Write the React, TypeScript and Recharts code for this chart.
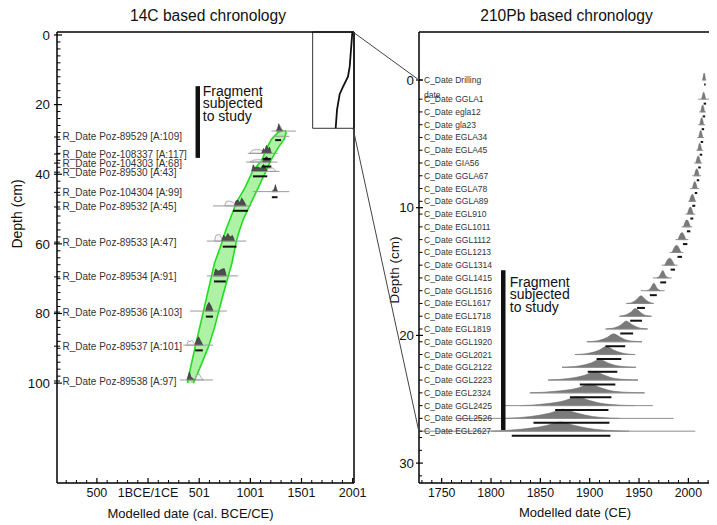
import React from 'react';
import { ComposedChart, XAxis, YAxis, Area, Line, Scatter, ReferenceLine, ReferenceArea } from 'recharts';

const FONT = '"Liberation Sans", Arial, Helvetica, sans-serif';

// ================= 14C panel (left) =================
const leftXDomain = [-890, 2013];
const leftYDomain = [-0.86, 128.7];
const leftXMajor = [-500, 0, 500, 1000, 1500, 2000];
const leftXMajorLabels = ['500', '1BCE/1CE', '501', '1001', '1501', '2001'];
const leftXMinor = [-800, -700, -600, -400, -300, -200, -100, 100, 200, 300, 400, 600, 700, 800, 900, 1100, 1200, 1300, 1400, 1600, 1700, 1800, 1900];
const leftYMajor = [0, 20, 40, 60, 80, 100];
const leftYMinor = Array.from({ length: 50 }, (_, i) => (i + 1) * 2).filter((v) => v % 20 !== 0);

const rDateNames = [
  'R_Date Poz-89529 [A:109]',
  'R_Date Poz-108337 [A:117]',
  'R_Date Poz-104303 [A:68]',
  'R_Date Poz-89530 [A:43]',
  'R_Date Poz-104304 [A:99]',
  'R_Date Poz-89532 [A:45]',
  'R_Date Poz-89533 [A:47]',
  'R_Date Poz-89534 [A:91]',
  'R_Date Poz-89536 [A:103]',
  'R_Date Poz-89537 [A:101]',
  'R_Date Poz-89538 [A:97]',
];
const rDateDepths = [29.3, 34.2, 36.8, 39.4, 45.2, 49.4, 59.5, 69.5, 79.6, 89.4, 99.4];
const rDateBase = [27.6, 34.0, 36.5, 39.2, 45.0, 49.1, 59.2, 69.2, 79.3, 89.1, 99.1];
const rDateLine = [[1205, 1445], [975, 1265], [960, 1265], [1010, 1285], [1025, 1380], [635, 1010], [575, 960], [575, 880], [410, 770], [345, 635], [310, 635]];
const rDateBar = [[1243, 1300], [1120, 1200], [1115, 1205], [1025, 1165], [1210, 1265], [830, 975], [730, 865], [645, 760], [565, 635], [460, 535], null];
const rDateBarDepth = [30.2, 35.6, 37.8, 40.6, 46.6, 50.5, 60.8, 70.8, 80.9, 90.6, null];
const rDateExtraLine = { depth: 29.1, range: [1230, 1380] };

// posterior (dark) [year, height in cm]
const rDatePost = [
  [[1255, 0], [1268, 0.8], [1278, 2.1], [1288, 1.2], [1298, 0.7], [1312, 0]],
  [[1110, 0], [1128, 1.4], [1142, 0.9], [1158, 2.3], [1172, 1.2], [1188, 1.8], [1205, 0]],
  [[1118, 0], [1138, 1.1], [1158, 1.6], [1178, 0.9], [1200, 0]],
  [[1012, 0], [1028, 1.9], [1045, 1.0], [1075, 1.3], [1100, 0.9], [1128, 2.0], [1148, 1.1], [1165, 0]],
  [[1212, 0], [1232, 0.6], [1245, 2.0], [1256, 0.7], [1266, 0]],
  [[842, 0], [858, 1.4], [878, 1.7], [898, 0.9], [915, 2.3], [935, 1.4], [960, 0]],
  [[718, 0], [738, 1.7], [758, 1.0], [780, 2.2], [802, 1.2], [825, 1.6], [846, 0]],
  [[643, 0], [660, 2.0], [688, 1.3], [718, 1.9], [745, 2.1], [765, 0]],
  [[562, 0], [578, 1.6], [595, 2.5], [615, 1.5], [636, 0]],
  [[458, 0], [474, 1.5], [494, 2.4], [514, 1.2], [536, 0]],
  [[378, 0], [392, 1.1], [404, 2.3], [420, 0.8], [458, 0]],
];
// unmodelled likelihood (light outline)
const rDateLike = [
  [[1250, 0], [1272, 1.3], [1292, 1.5], [1305, 0.6], [1325, 0]],
  [[995, 0], [1018, 0.9], [1060, 1.1], [1100, 1.0], [1150, 0]],
  [[995, 0], [1035, 0.6], [1095, 0.7], [1140, 0]],
  [[1150, 0], [1178, 0.9], [1220, 1.0], [1252, 0]],
  [[1205, 0], [1240, 0.8], [1270, 0]],
  [[748, 0], [765, 1.3], [800, 1.4], [832, 1.0], [866, 0]],
  [[648, 0], [665, 1.7], [700, 1.9], [732, 0]],
  [[640, 0], [660, 1.4], [700, 1.5], [735, 0]],
  [[560, 0], [590, 1.8], [625, 0]],
  [[378, 0], [394, 1.3], [410, 0.9], [425, 1.4], [442, 1.0], [460, 0]],
  [[460, 0], [476, 1.6], [500, 1.7], [520, 0.7], [542, 0]],
];

// age-depth envelope
const bandDepths = [27.3, 28, 30, 32, 36, 39, 44, 48, 53, 56, 59, 65.5, 75, 84, 89.6, 99, 100];
const bandOld = [1318, 1270, 1205, 1170, 1110, 1025, 945, 865, 800, 760, 730, 650, 575, 505, 460, 390, 385];
const bandYoung = [1340, 1350, 1330, 1280, 1200, 1155, 1075, 1010, 930, 895, 865, 820, 730, 650, 590, 460, 440];

// inset (210Pb chronology in 14C scale)
const insetBox = { x1: 1609, x2: 2013, y1: -0.86, y2: 26.8 };
const insetYears = [1997, 1971, 1954, 1905, 1873, 1847, 1834];
const insetDepths = [-0.86, 9.1, 12.0, 14.9, 17.0, 21.5, 26.8];

const fragLeft = { x: 486, y1: 14.7, y2: 35.3, textX: 535, textY: 16.0 };

// ================= 210Pb panel (right) =================
const rightXDomain = [1727, 2027];
const rightYDomain = [-3.76, 31.56];
const rightXMajor = [1750, 1800, 1850, 1900, 1950, 2000];
const rightXMinor = [1730, 1740, 1760, 1770, 1780, 1790, 1810, 1820, 1830, 1840, 1860, 1870, 1880, 1890, 1910, 1920, 1930, 1940, 1960, 1970, 1980, 1990, 2010, 2020];
const rightYMajor = [0, 10, 20, 30];
const rightYMinor = [28, 29, 31];

const cDateNames = [
  'C_Date Drilling', 'C_Date GGLA1', 'C_Date egla12', 'C_Date gla23', 'C_Date EGLA34', 'C_Date EGLA45',
  'C_Date GIA56', 'C_Date GGLA67', 'C_Date EGLA78', 'C_Date GGLA89', 'C_Date EGL910', 'C_Date EGL1011',
  'C_Date GGL1112', 'C_Date EGL1213', 'C_Date GGL1314', 'C_Date GGL1415', 'C_Date GGL1516', 'C_Date EGL1617',
  'C_Date EGL1718', 'C_Date EGL1819', 'C_Date GGL1920', 'C_Date GGL2021', 'C_Date GGL2122', 'C_Date GGL2223',
  'C_Date EGL2324', 'C_Date GGL2425', 'C_Date GGL2526', 'C_Date EGL2627',
];
const cDateDepths = [0, 1.5, 2.5, 3.5, 4.5, 5.5, 6.5, 7.5, 8.5, 9.5, 10.5, 11.5, 12.5, 13.5, 14.5, 15.5, 16.5, 17.5, 18.5, 19.5, 20.5, 21.5, 22.5, 23.5, 24.5, 25.5, 26.5, 27.5];
const cDateShapes = [
  [[2014.5, 0], [2016, 0.55], [2017.5, 0]],
  [[2013.5, 0], [2015.5, 0.55], [2017.5, 0]],
  [[2012.5, 0], [2014.5, 0.55], [2016.5, 0]],
  [[2011.5, 0], [2013.5, 0.55], [2015.5, 0]],
  [[2010.5, 0], [2012.5, 0.55], [2014.5, 0]],
  [[2009.5, 0], [2011.5, 0.55], [2013.5, 0]],
  [[2007.5, 0], [2010, 0.55], [2012.5, 0]],
  [[2006, 0], [2008.5, 0.55], [2011, 0]],
  [[2004, 0], [2006.5, 0.55], [2009, 0]],
  [[2001, 0], [2004, 0.55], [2007, 0]],
  [[1999, 0], [2002, 0.55], [2005, 0]],
  [[1995, 0], [1998.5, 0.55], [2002, 0]],
  [[1989.5, 0], [1993.5, 0.55], [1997.5, 0]],
  [[1983.5, 0], [1988, 0.55], [1992.5, 0]],
  [[1976, 0], [1981, 0.55], [1986, 0]],
  [[1968, 0], [1971, 0.18], [1974, 0.58], [1977, 0.18], [1980, 0]],
  [[1958, 0], [1961.5, 0.18], [1965, 0.58], [1968.5, 0.18], [1972, 0]],
  [[1938, 0], [1944, 0.12], [1948, 0.34], [1952, 0.6], [1956, 0.34], [1960, 0.12], [1965, 0]],
  [[1930, 0], [1937, 0.12], [1942, 0.34], [1946, 0.6], [1951, 0.34], [1955, 0.12], [1962, 0]],
  [[1916, 0], [1926, 0.12], [1932, 0.34], [1937, 0.62], [1943, 0.34], [1949, 0.12], [1959, 0]],
  [[1897, 0], [1910, 0.12], [1918, 0.36], [1924, 0.62], [1931, 0.36], [1938, 0.12], [1953, 0]],
  [[1885, 0], [1900, 0.12], [1910, 0.36], [1917, 0.64], [1924, 0.36], [1933, 0.12], [1946, 0]],
  [[1872, 0], [1890, 0.12], [1902, 0.36], [1910, 0.64], [1918, 0.36], [1928, 0.12], [1947, 0]],
  [[1858, 0], [1878, 0.12], [1895, 0.38], [1905, 0.66], [1915, 0.38], [1926, 0.12], [1949, 0]],
  [[1840, 0], [1865, 0.12], [1888, 0.38], [1900, 0.68], [1912, 0.38], [1925, 0.12], [1955, 0]],
  [[1830, 0], [1855, 0.14], [1875, 0.4], [1887, 0.7], [1900, 0.4], [1915, 0.14], [1945, 0]],
  [[1815, 0], [1840, 0.15], [1860, 0.42], [1873, 0.72], [1887, 0.42], [1903, 0.15], [1930, 0]],
  [[1800, 0], [1830, 0.15], [1855, 0.42], [1870, 0.72], [1886, 0.42], [1905, 0.15], [1940, 0]],
];
const cDateLine = [
  [2014, 2018], [2010, 2022], [2011, 2018], [2010, 2017], [2009, 2016], [2008, 2015], [2006, 2014],
  [2004, 2013], [2002, 2011], [2000, 2008], [1997, 2007], [1993, 2004], [1987, 2000], [1981, 1995],
  [1973, 1989], [1964, 1983], [1952, 1976], [1937, 1964], [1931, 1963], [1917, 1958], [1898, 1953],
  [1885, 1946], [1872, 1947], [1858, 1949], [1839, 1956], [1814, 1964], [1765, 1985], [1727, 2007],
];
const cDateBar = [
  [2016, 2017.5], [2015.5, 2018], [2014.5, 2017], [2013.5, 2016], [2012.5, 2015], [2011.5, 2014], [2010, 2012.5],
  [2008.5, 2011], [2006.5, 2009], [2004, 2007], [2002, 2005], [1998.5, 2002], [1994.5, 1999], [1989, 1993.5],
  [1982, 1986.5], [1971.5, 1977.5], [1961, 1968], [1948, 1956], [1941, 1953], [1931, 1944], [1916, 1936],
  [1907, 1932], [1898, 1928], [1890, 1926], [1880, 1922], [1865, 1919], [1843, 1920], [1821, 1921],
];
const cDateBarOffset = 0.35;

const fragRight = { x: 1812.4, y1: 14.9, y2: 27.4, textX: 1819, textY: 15.8 };

// ================= derived tables =================
const bandData = bandDepths.map((d, i) => ({ d, r: [bandOld[i], bandYoung[i]] }));
const insetData = insetYears.map((x, i) => ({ x, y: insetDepths[i] }));
const toArea = (pts: number[][], base: number) => pts.map(([x, h]) => ({ x, r: [base - h, base] }));

const leftYTicks = [...leftYMajor, ...leftYMinor, ...rDateDepths].sort((a, b) => a - b);
const leftXTicks = [...leftXMajor, ...leftXMinor].sort((a, b) => a - b);
const rightYTicks = Array.from(new Set([...rightYMajor, ...rightYMinor, ...cDateDepths])).sort((a, b) => a - b);
const rightXTicks = [...rightXMajor, ...rightXMinor].sort((a, b) => a - b);

// ================= tick renderers =================
const LeftXTick = (p: any) => {
  const { x, y, payload } = p;
  const v = payload.value;
  const mi = leftXMajor.indexOf(v);
  if (mi >= 0) {
    return (
      <g>
        <line x1={x} x2={x} y1={y} y2={y - 5} stroke="#000" strokeWidth={1.2} />
        <text x={x} y={y + 10} dy="0.35em" textAnchor="middle" fontSize={12.5} fill="#111" fontFamily={FONT}>{leftXMajorLabels[mi]}</text>
      </g>
    );
  }
  return <line x1={x} x2={x} y1={y} y2={y - 3} stroke="#000" strokeWidth={1} />;
};

const LeftYTick = (p: any) => {
  const { x, y, payload } = p;
  const v = payload.value;
  const li = rDateDepths.indexOf(v);
  if (li >= 0) {
    return (
      <g>
        <line x1={x - 3} x2={x + 3} y1={y} y2={y} stroke="#000" strokeWidth={1} />
        <text x={x + 5.5} y={y} dy="0.35em" fontSize={10} fill="#333" fontFamily={FONT}>{rDateNames[li]}</text>
      </g>
    );
  }
  if (leftYMajor.includes(v)) {
    return (
      <g>
        <line x1={x - 3} x2={x + 5} y1={y} y2={y} stroke="#000" strokeWidth={1.2} />
        <text x={x - 7} y={y} dy="0.35em" textAnchor="end" fontSize={13.3} fill="#111" fontFamily={FONT}>{v}</text>
      </g>
    );
  }
  return <line x1={x} x2={x + 3.5} y1={y} y2={y} stroke="#000" strokeWidth={1} />;
};

const RightXTick = (p: any) => {
  const { x, y, payload } = p;
  const v = payload.value;
  if (rightXMajor.includes(v)) {
    return (
      <g>
        <line x1={x} x2={x} y1={y} y2={y - 5} stroke="#000" strokeWidth={1.2} />
        <text x={x} y={y + 10} dy="0.35em" textAnchor="middle" fontSize={12.3} fill="#111" fontFamily={FONT}>{v}</text>
      </g>
    );
  }
  return <line x1={x} x2={x} y1={y} y2={y - 3} stroke="#000" strokeWidth={1} />;
};

const RightYTick = (p: any) => {
  const { x, y, payload } = p;
  const v = payload.value;
  const parts: any[] = [];
  const li = cDateDepths.indexOf(v);
  if (rightYMajor.includes(v)) {
    parts.push(<line key="ml" x1={x - 3} x2={x + 4} y1={y} y2={y} stroke="#000" strokeWidth={1.2} />);
    parts.push(<text key="mt" x={x - 5} y={y} dy="0.35em" textAnchor="end" fontSize={13.3} fill="#111" fontFamily={FONT}>{v}</text>);
  }
  if (li >= 0) {
    parts.push(<line key="ll" x1={x} x2={x + 3.5} y1={y} y2={y} stroke="#000" strokeWidth={1} />);
    parts.push(<text key="lt" x={x + 5} y={y} dy="0.35em" fontSize={8.5} fill="#333" fontFamily={FONT}>{cDateNames[li]}</text>);
    if (li === 0) {
      parts.push(<text key="lt2" x={x + 5} y={y + 15} dy="0.35em" fontSize={8.5} fill="#333" fontFamily={FONT}>date</text>);
    }
  }
  if (parts.length === 0) {
    parts.push(<line key="mn" x1={x} x2={x + 3} y1={y} y2={y} stroke="#000" strokeWidth={1} />);
  }
  return <g>{parts}</g>;
};

const FragText = (p: any) => {
  const { cx, cy } = p;
  const lines = ['Fragment', 'subjected', 'to study'];
  return (
    <g>
      {lines.map((t, i) => (
        <text key={t} x={cx} y={cy + i * 12.8} dy="0.35em" fontSize={14} fill="#111" fontFamily={FONT}>{t}</text>
      ))}
    </g>
  );
};

const frame = { stroke: '#000', strokeWidth: 1.5 };
// axes take 1px each, margins reduced accordingly: plot area left 57..354, top 32..483
const LM = { top: 31, left: 56, right: 17, bottom: 41 };
const RM = { top: 31, left: 43, right: 1, bottom: 41 };

export default function App() {
  return (
    <div style={{ position: 'relative', width: 717, height: 525, margin: '-8px 0 0 -8px', background: '#fff', fontFamily: FONT, overflow: 'hidden' }}>
      {/* envelope (vertical layout) */}
      <div style={{ position: 'absolute', left: 0, top: 0 }}>
        <ComposedChart layout="vertical" width={372} height={525} margin={LM}>
          <XAxis type="number" dataKey="x" domain={leftXDomain} allowDataOverflow height={1} tick={false} tickLine={false} axisLine={false} />
          <XAxis xAxisId="top" orientation="top" type="number" domain={leftXDomain} allowDataOverflow height={1} tick={false} tickLine={false} axisLine={false} />
          <YAxis type="number" dataKey="d" domain={leftYDomain} allowDataOverflow width={1} tick={false} tickLine={false} axisLine={false} />
          <YAxis yAxisId="right" orientation="right" type="number" domain={leftYDomain} allowDataOverflow width={1} tick={false} tickLine={false} axisLine={false} />
          <Area data={bandData} dataKey="r" type="linear" fill="#aef2a6" fillOpacity={1} stroke="#22dc22" strokeWidth={1.6} isAnimationActive={false} dot={false} activeDot={false} />
        </ComposedChart>
      </div>

      {/* left main chart */}
      <div style={{ position: 'absolute', left: 0, top: 0 }}>
        <ComposedChart width={372} height={525} margin={LM}>
          <XAxis type="number" dataKey="x" domain={leftXDomain} allowDataOverflow ticks={leftXTicks} interval={0} tickSize={0} tickMargin={0} height={1} tick={LeftXTick} tickLine={false} axisLine={frame} />
          <XAxis xAxisId="top" orientation="top" type="number" domain={leftXDomain} allowDataOverflow height={1} tick={false} tickLine={false} axisLine={frame} />
          <YAxis type="number" dataKey="y" domain={leftYDomain} allowDataOverflow reversed ticks={leftYTicks} interval={0} tickSize={0} tickMargin={0} width={1} tick={LeftYTick} tickLine={false} axisLine={frame} />
          <YAxis yAxisId="right" orientation="right" type="number" domain={leftYDomain} allowDataOverflow reversed width={1} tick={false} tickLine={false} axisLine={frame} />

          {rDateLine.map((r, i) => (
            <ReferenceLine key={'ll' + i} segment={[{ x: r[0], y: rDateBase[i] }, { x: r[1], y: rDateBase[i] }]} stroke="#9a9a9a" strokeWidth={1} />
          ))}
          <ReferenceLine segment={[{ x: rDateExtraLine.range[0], y: rDateExtraLine.depth }, { x: rDateExtraLine.range[1], y: rDateExtraLine.depth }]} stroke="#9a9a9a" strokeWidth={1} />
          {rDateLike.map((pts, i) => (
            <Area key={'lk' + i} data={toArea(pts, rDateBase[i])} dataKey="r" type="linear" fill="#eeeeee" fillOpacity={0.6} stroke="#9d9d9d" strokeWidth={0.8} isAnimationActive={false} dot={false} activeDot={false} />
          ))}
          {rDatePost.map((pts, i) => (
            <Area key={'lp' + i} data={toArea(pts, rDateBase[i])} dataKey="r" type="linear" fill="#4d4d4d" fillOpacity={1} stroke="#2a2a2a" strokeWidth={0.6} isAnimationActive={false} dot={false} activeDot={false} />
          ))}
          {rDateBar.map((b, i) =>
            b ? (
              <ReferenceLine key={'lb' + i} segment={[{ x: b[0], y: rDateBarDepth[i] as number }, { x: b[1], y: rDateBarDepth[i] as number }]} stroke="#111" strokeWidth={2} />
            ) : null
          )}

          <ReferenceArea x1={insetBox.x1} x2={insetBox.x2} y1={insetBox.y1} y2={insetBox.y2} fill="none" stroke="#333" strokeWidth={1} />
          <Line data={insetData} dataKey="y" type="linear" stroke="#111" strokeWidth={1.8} dot={false} activeDot={false} isAnimationActive={false} />

          <ReferenceLine segment={[{ x: fragLeft.x, y: fragLeft.y1 }, { x: fragLeft.x, y: fragLeft.y2 }]} stroke="#111" strokeWidth={4.5} />
          <Scatter data={[{ x: fragLeft.textX, y: fragLeft.textY }]} shape={FragText} isAnimationActive={false} />
        </ComposedChart>
      </div>

      {/* right chart */}
      <div style={{ position: 'absolute', left: 375, top: 0 }}>
        <ComposedChart width={342} height={525} margin={RM}>
          <XAxis type="number" dataKey="x" domain={rightXDomain} allowDataOverflow ticks={rightXTicks} interval={0} tickSize={0} tickMargin={0} height={1} tick={RightXTick} tickLine={false} axisLine={frame} />
          <XAxis xAxisId="top" orientation="top" type="number" domain={rightXDomain} allowDataOverflow height={1} tick={false} tickLine={false} axisLine={frame} />
          <YAxis type="number" dataKey="y" domain={rightYDomain} allowDataOverflow reversed ticks={rightYTicks} interval={0} tickSize={0} tickMargin={0} width={1} tick={RightYTick} tickLine={false} axisLine={frame} />
          <YAxis yAxisId="right" orientation="right" type="number" domain={rightYDomain} allowDataOverflow reversed width={1} tick={false} tickLine={false} axisLine={frame} />

          {cDateLine.map((r, i) => (
            <ReferenceLine key={'cl' + i} segment={[{ x: r[0], y: cDateDepths[i] }, { x: r[1], y: cDateDepths[i] }]} stroke="#8c8c8c" strokeWidth={1} />
          ))}
          {cDateShapes.map((pts, i) => (
            <Area key={'cs' + i} data={toArea(pts, cDateDepths[i])} dataKey="r" type="monotone" fill="#7a7a7a" fillOpacity={1} stroke="#666" strokeWidth={0.5} isAnimationActive={false} dot={false} activeDot={false} />
          ))}
          {cDateBar.map((b, i) => (
            <ReferenceLine key={'cb' + i} segment={[{ x: b[0], y: cDateDepths[i] + cDateBarOffset }, { x: b[1], y: cDateDepths[i] + cDateBarOffset }]} stroke="#111" strokeWidth={2} />
          ))}

          <ReferenceLine segment={[{ x: fragRight.x, y: fragRight.y1 }, { x: fragRight.x, y: fragRight.y2 }]} stroke="#111" strokeWidth={4.5} />
          <Scatter data={[{ x: fragRight.textX, y: fragRight.textY }]} shape={FragText} isAnimationActive={false} />
        </ComposedChart>
      </div>

      {/* titles, axis titles, zoom connectors */}
      <svg width={717} height={525} style={{ position: 'absolute', left: 0, top: 0, pointerEvents: 'none' }} fontFamily={FONT}>
        <text x={208} y={20.5} textAnchor="middle" fontSize={15.6} fill="#111">14C based chronology</text>
        <text x={566.5} y={20.5} textAnchor="middle" fontSize={15.6} fill="#111">210Pb based chronology</text>
        <text x={190.5} y={517.5} textAnchor="middle" fontSize={13} fill="#111">Modelled date (cal. BCE/CE)</text>
        <text x={575} y={517} textAnchor="middle" fontSize={13} fill="#111">Modelled date (CE)</text>
        <text x={17} y={214} transform="rotate(-90 17 214)" textAnchor="middle" dy="0.35em" fontSize={14} fill="#111">Depth (cm)</text>
        <text x={394} y={270} transform="rotate(-90 394 270)" textAnchor="middle" dy="0.35em" fontSize={13.5} fill="#111">Depth (cm)</text>
        <line x1={353} y1={32} x2={419} y2={80} stroke="#444" strokeWidth={1} />
        <line x1={353} y1={128} x2={419} y2={432} stroke="#444" strokeWidth={1} />
      </svg>
    </div>
  );
}
